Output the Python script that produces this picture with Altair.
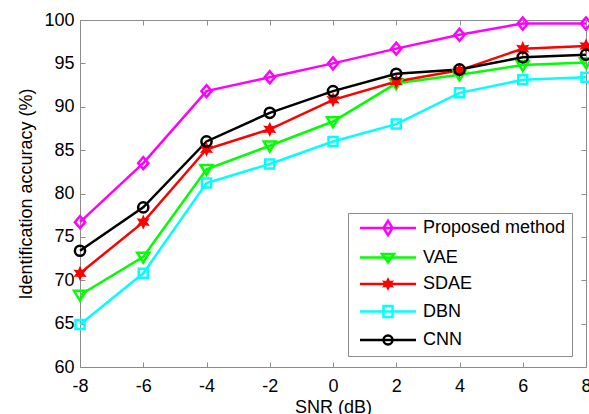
import altair as alt
import pandas as pd

# ---- data ----
snr = [-8, -6, -4, -2, 0, 2, 4, 6, 8]
proposed = [76.7, 83.5, 91.8, 93.4, 95.0, 96.7, 98.3, 99.6, 99.6]
vae = [68.3, 72.7, 82.8, 85.5, 88.3, 92.7, 93.7, 94.8, 95.1]
sdae = [70.8, 76.7, 85.1, 87.4, 90.8, 92.9, 94.2, 96.7, 97.0]
dbn = [64.9, 70.8, 81.2, 83.4, 86.0, 88.0, 91.6, 93.1, 93.4]
cnn = [73.4, 78.4, 86.0, 89.3, 91.8, 93.8, 94.3, 95.7, 96.0]
methods = ["Proposed method", "VAE", "SDAE", "DBN", "CNN"]
x_ticks = [-8, -6, -4, -2, 0, 2, 4, 6, 8]
y_ticks = [60, 65, 70, 75, 80, 85, 90, 95, 100]

# ---- styles ----
colors = ["#ff00ff", "#00ff00", "#ff0000", "#00ffff", "#000000"]
fills = ["transparent", "transparent", "#ff0000", "transparent", "transparent"]
marker_paths = [
    "M0,-1L0.85,0L0,1L-0.85,0Z",
    "M-1,-0.7L1,-0.7L0,0.95Z",
    "M0,-0.75L0.19,-0.32L0.65,-0.37L0.37,0L0.65,0.37L0.19,0.32L0,0.75L-0.19,0.32L-0.65,0.37L-0.37,0L-0.65,-0.37L-0.19,-0.32Z",
    "M-0.75,-0.75L0.75,-0.75L0.75,0.75L-0.75,0.75Z",
    "M-0.85,0A0.85,0.85 0 1,0 0.85,0A0.85,0.85 0 1,0 -0.85,0Z",
]
legend_paths = [
    "M-4.667,0H4.667M0,-1.2L0.75,0L0,1.2L-0.75,0Z",
    "M-4.667,0H4.667M-1,-0.6L1,-0.6L0,0.8Z",
    "M-4.667,0H4.667M0,-0.65L0.16,-0.28L0.56,-0.33L0.33,0L0.56,0.33L0.16,0.28L0,0.65L-0.16,0.28L-0.56,0.33L-0.33,0L-0.56,-0.33L-0.16,-0.28Z",
    "M-4.667,0H4.667M-0.75,-0.9L0.75,-0.9L0.75,0.9L-0.75,0.9Z",
    "M-4.667,0H4.667M-0.75,0A0.75,0.75 0 1,0 0.75,0A0.75,0.75 0 1,0 -0.75,0Z",
]

series = [proposed, vae, sdae, dbn, cnn]
df = pd.DataFrame({
    "snr": [s for _ in methods for s in snr],
    "acc": [v for vals in series for v in vals],
    "method": [m for m in methods for _ in snr],
})

W, H = 506, 347
FONT = "Liberation Sans"
GREY = "#8c8c8c"

x_scale = alt.Scale(domain=[-8, 8], nice=False, zero=False)
y_scale = alt.Scale(domain=[60, 100], nice=False, zero=False)

ax_bottom = alt.Axis(orient="bottom", values=x_ticks, offset=-5, tickSize=5, domain=False,
                     grid=False, labelPadding=10, labelFlush=False, labelOverlap=False,
                     labelExpr="'' + datum.value", title="SNR (dB)",
                     titleX=W / 2, titleY=50, titleBaseline="alphabetic")
ax_left = alt.Axis(orient="left", values=y_ticks, offset=-5, tickSize=5, domain=False,
                   grid=False, labelPadding=6, labelFlush=False, labelOverlap=False,
                   title="Identification accuracy (%)",
                   titleX=-53.5, titleY=H / 2, titleBaseline="alphabetic")
ax_top = alt.Axis(orient="top", values=x_ticks, offset=-5, tickSize=5, domain=False,
                  grid=False, labels=False, title=None)
ax_right = alt.Axis(orient="right", values=y_ticks, offset=-5, tickSize=5, domain=False,
                    grid=False, labels=False, title=None)

base = alt.Chart(df)

lines = base.mark_line(strokeWidth=2.5).encode(
    x=alt.X("snr:Q", scale=x_scale, axis=ax_bottom),
    y=alt.Y("acc:Q", scale=y_scale, axis=ax_left),
    stroke=alt.Stroke("method:N", scale=alt.Scale(domain=methods, range=colors), legend=None),
)

points = base.mark_point(size=144, strokeWidth=2.5, opacity=1, filled=False).encode(
    x=alt.X("snr:Q", scale=x_scale, axis=ax_top),
    y=alt.Y("acc:Q", scale=y_scale, axis=ax_right),
    stroke=alt.Stroke("method:N", scale=alt.Scale(domain=methods, range=colors), legend=None),
    fill=alt.Fill("method:N", scale=alt.Scale(domain=methods, range=fills), legend=None),
    shape=alt.Shape("method:N", scale=alt.Scale(domain=methods, range=marker_paths), legend=None),
)

legend_layer = base.transform_filter("false").mark_point(
    size=144, strokeWidth=2.5, opacity=1, filled=False
).encode(
    x=alt.X("snr:Q", scale=x_scale, axis=None),
    y=alt.Y("acc:Q", scale=y_scale, axis=None),
    stroke=alt.Stroke("method:N", scale=alt.Scale(domain=methods, range=colors),
                      legend=alt.Legend(title=None)),
    fill=alt.Fill("method:N", scale=alt.Scale(domain=methods, range=fills),
                  legend=alt.Legend(title=None)),
    shape=alt.Shape("method:N", scale=alt.Scale(domain=methods, range=legend_paths),
                    legend=alt.Legend(title=None)),
)

chart = alt.layer(lines, points, legend_layer).resolve_scale(
    stroke="independent", fill="independent", shape="independent"
).resolve_axis(
    x="independent", y="independent"
).properties(
    width=W, height=H, autosize="none",
    padding={"left": 80, "top": 20, "right": 3, "bottom": 47},
).configure_view(
    stroke=GREY, strokeWidth=1
).configure_axis(
    labelFont=FONT, labelFontSize=18, labelColor="black",
    titleFont=FONT, titleFontSize=18, titleFontWeight="normal", titleColor="black",
    tickColor=GREY, tickWidth=1,
).configure_legend(
    orient="none", legendX=268, legendY=193, padding=6,
    strokeColor=GREY, fillColor="white", strokeWidth=1,
    labelFont=FONT, labelFontSize=18, labelColor="black",
    symbolOffset=25, labelOffset=26,
    rowPadding=7.5, symbolSize=144, symbolStrokeWidth=2.5,
)

chart.save("out.html", embed_options={"renderer": "svg", "actions": False})
